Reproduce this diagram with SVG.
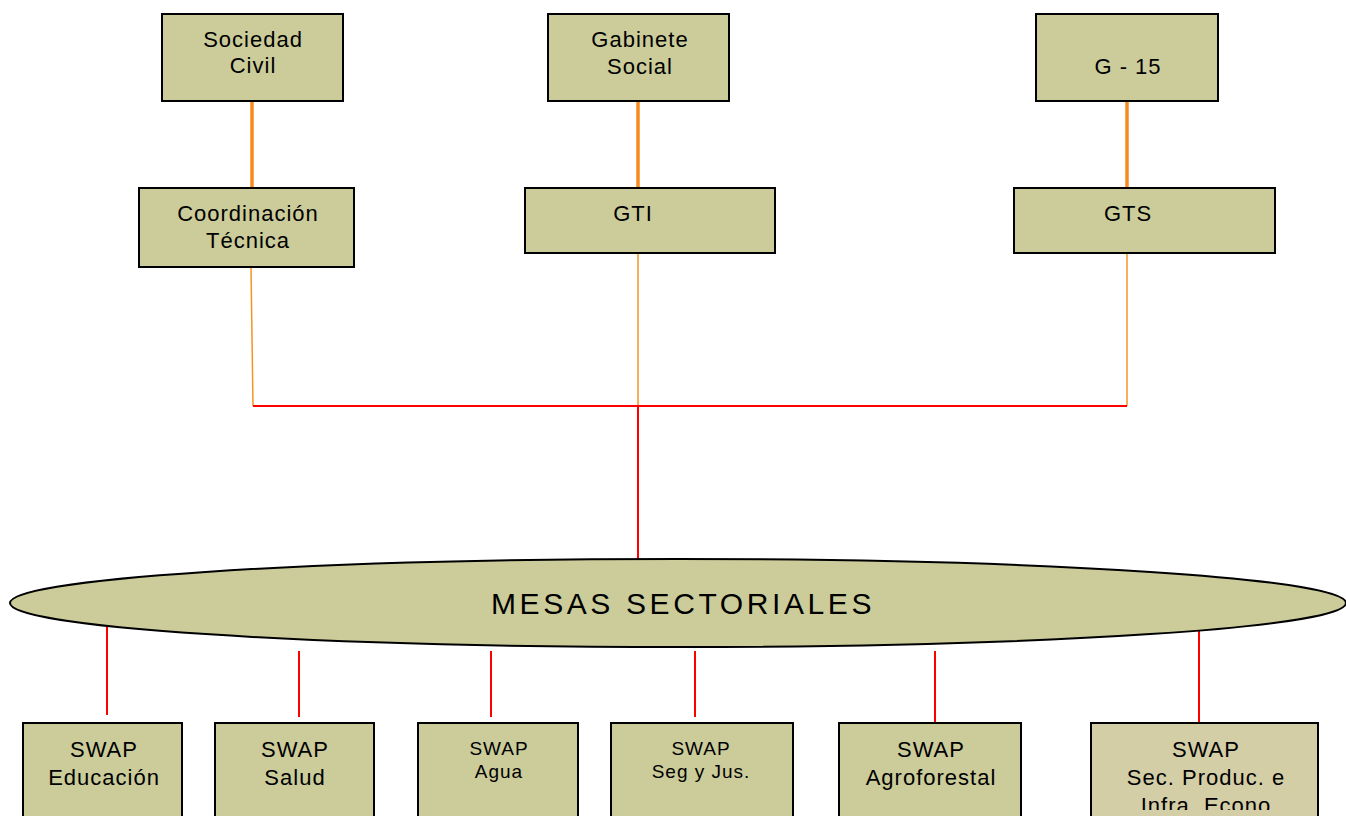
<svg xmlns="http://www.w3.org/2000/svg" width="1346" height="816" viewBox="0 0 1346 816">
<style>
.box{fill:#cbcc9a;stroke:#000;stroke-width:2}
.box2{fill:#d4cea6;stroke:#000;stroke-width:2}
.t{font-family:"Liberation Sans",Arial,sans-serif;font-size:22px;letter-spacing:1px;fill:#000;text-anchor:middle}
.ts{font-family:"Liberation Sans",Arial,sans-serif;font-size:19px;letter-spacing:1px;fill:#000;text-anchor:middle}
.thick{stroke:#f78b1f;stroke-width:3.5;fill:none}
.thin{stroke:#f7941d;stroke-width:1.5;fill:none}
.red{stroke:#f00;stroke-width:2;fill:none}
</style>
<defs>
<clipPath id="clipBottom"><rect x="0" y="0" width="1346" height="810"/></clipPath>
</defs>
<rect width="1346" height="816" fill="#fff"/>
<g id="connectors">
<line class="thick" x1="252" y1="101" x2="252" y2="188"/>
<line class="thick" x1="638" y1="101" x2="638" y2="188"/>
<line class="thick" x1="1127" y1="101" x2="1127" y2="188"/>
<polyline class="thin" points="251,267 253,406"/>
<line class="thin" x1="638" y1="253" x2="638" y2="406"/>
<line class="thin" x1="1127" y1="253" x2="1127" y2="406"/>
<line class="red" x1="253" y1="406" x2="1127" y2="406"/>
<line class="red" x1="638" y1="406" x2="638" y2="560"/>
<line class="red" x1="107" y1="627" x2="107" y2="715"/>
<line class="red" x1="299" y1="651" x2="299" y2="717"/>
<line class="red" x1="491" y1="651" x2="491" y2="717"/>
<line class="red" x1="695" y1="651" x2="695" y2="717"/>
<line class="red" x1="935" y1="651" x2="935" y2="723"/>
<line class="red" x1="1199" y1="627" x2="1199" y2="723"/>
</g>
<g id="sociedad-civil">
<rect class="box" x="162" y="14" width="181" height="87"/>
<text class="t" x="253" y="47">Sociedad</text>
<text class="t" x="253" y="73">Civil</text>
</g>
<g id="gabinete-social">
<rect class="box" x="548" y="14" width="181" height="87"/>
<text class="t" x="640" y="47">Gabinete</text>
<text class="t" x="640" y="74">Social</text>
</g>
<g id="g15">
<rect class="box" x="1036" y="14" width="182" height="87"/>
<text class="t" x="1128" y="74">G - 15</text>
</g>
<g id="coordinacion-tecnica">
<rect class="box" x="139" y="188" width="215" height="79"/>
<text class="t" x="248" y="221">Coordinación</text>
<text class="t" x="248" y="248">Técnica</text>
</g>
<g id="gti">
<rect class="box" x="525" y="188" width="250" height="65"/>
<text class="t" x="633" y="221">GTI</text>
</g>
<g id="gts">
<rect class="box" x="1014" y="188" width="261" height="65"/>
<text class="t" x="1128" y="221">GTS</text>
</g>
<g id="mesas-sectoriales">
<ellipse cx="678" cy="603" rx="668" ry="44" fill="#cbcc9a" stroke="#000" stroke-width="2"/>
<text x="683" y="614" font-family="'Liberation Sans',Arial,sans-serif" font-size="30" letter-spacing="3.6" text-anchor="middle" fill="#000">MESAS SECTORIALES</text>
</g>
<g id="swap-educacion">
<rect class="box" x="23" y="723" width="159" height="100"/>
<text class="t" x="104" y="757">SWAP</text>
<text class="t" x="104" y="785">Educación</text>
</g>
<g id="swap-salud">
<rect class="box" x="215" y="723" width="159" height="100"/>
<text class="t" x="295" y="757">SWAP</text>
<text class="t" x="295" y="785">Salud</text>
</g>
<g id="swap-agua">
<rect class="box" x="418" y="723" width="160" height="100"/>
<text class="ts" x="499" y="755">SWAP</text>
<text class="ts" x="499" y="778">Agua</text>
</g>
<g id="swap-seg-jus">
<rect class="box" x="611" y="723" width="182" height="100"/>
<text class="ts" x="701" y="755">SWAP</text>
<text class="ts" x="701" y="778">Seg y Jus.</text>
</g>
<g id="swap-agroforestal">
<rect class="box" x="839" y="723" width="182" height="100"/>
<text class="t" x="931" y="757">SWAP</text>
<text class="t" x="931" y="785">Agroforestal</text>
</g>
<g id="swap-sec-produc">
<rect class="box2" x="1091" y="723" width="227" height="100"/>
<text class="t" x="1206" y="757">SWAP</text>
<text class="t" x="1206" y="785">Sec. Produc. e</text>
<text class="t" x="1206" y="813" clip-path="url(#clipBottom)">Infra. Econo</text>
</g>
</svg>
